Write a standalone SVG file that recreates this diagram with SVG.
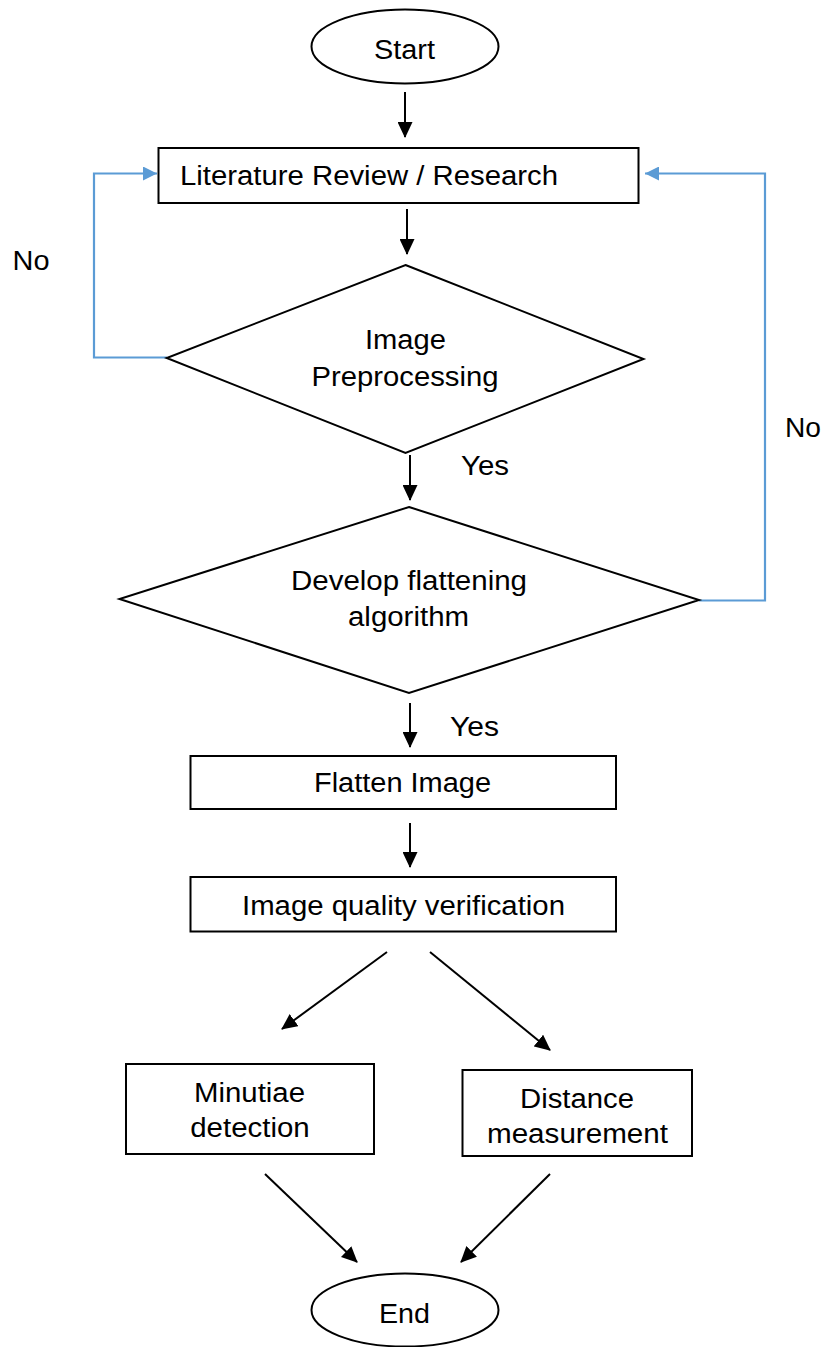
<svg xmlns="http://www.w3.org/2000/svg" width="827" height="1347" viewBox="0 0 827 1347">
<defs>
<style>
.shape{fill:#fff;stroke:#000;stroke-width:2}
.t{font-family:"Liberation Sans",Arial,sans-serif;font-size:27px;fill:#000;text-anchor:middle}
.ts{text-anchor:start}
.a{fill:none;stroke:#000;stroke-width:2;marker-end:url(#ah)}
.b{fill:none;stroke:#5B9BD5;stroke-width:2.2;marker-end:url(#bh)}
</style>
<marker id="ah" markerUnits="userSpaceOnUse" markerWidth="16" markerHeight="15" refX="15" refY="7.5" orient="auto">
<path d="M0,0 L16,7.5 L0,15 z" fill="#000"/>
</marker>
<marker id="bh" markerUnits="userSpaceOnUse" markerWidth="15" markerHeight="14" refX="14" refY="7" orient="auto">
<path d="M0,0 L14,7 L0,14 z" fill="#5B9BD5"/>
</marker>
</defs>
<rect width="827" height="1347" fill="#fff"/>
<g id="connectors">
<line class="a" x1="405" y1="92" x2="405" y2="137"/>
<line class="a" x1="407" y1="209" x2="407" y2="254"/>
<line class="a" x1="410" y1="455" x2="410" y2="500"/>
<line class="a" x1="410" y1="703" x2="410" y2="747"/>
<line class="a" x1="410" y1="823" x2="410" y2="867"/>
<line class="a" x1="387" y1="952" x2="282" y2="1029"/>
<line class="a" x1="430" y1="952" x2="550" y2="1050"/>
<line class="a" x1="265" y1="1174" x2="357" y2="1262"/>
<line class="a" x1="550" y1="1174" x2="461" y2="1262"/>
<polyline class="b" points="167,357.5 94,357.5 94,173.5 157,173.5"/>
<polyline class="b" points="699,600.5 765,600.5 765,173.5 645,173.5"/>
<text class="t" x="31" y="270" textLength="37" lengthAdjust="spacingAndGlyphs">No</text>
<text class="t" x="803" y="436.5" textLength="36" lengthAdjust="spacingAndGlyphs">No</text>
<text class="t ts" x="461" y="475" textLength="48" lengthAdjust="spacingAndGlyphs">Yes</text>
<text class="t ts" x="450" y="736" textLength="49" lengthAdjust="spacingAndGlyphs">Yes</text>
</g>
<g id="start">
<ellipse class="shape" cx="405" cy="46.5" rx="93.5" ry="37"/>
<text class="t" x="404.5" y="59" textLength="61" lengthAdjust="spacingAndGlyphs">Start</text>
</g>
<g id="literature">
<rect class="shape" x="158.5" y="148" width="480" height="55"/>
<text class="t ts" x="180" y="185" textLength="378" lengthAdjust="spacingAndGlyphs">Literature Review / Research</text>
</g>
<g id="preprocessing">
<polygon class="shape" points="405.5,265 643.5,359 405.5,453 166.7,358"/>
<text class="t" x="405.5" y="349" textLength="81" lengthAdjust="spacingAndGlyphs">Image</text>
<text class="t" x="405" y="386" textLength="187" lengthAdjust="spacingAndGlyphs">Preprocessing</text>
</g>
<g id="develop">
<polygon class="shape" points="409,507 699,600 409,693 119.5,599"/>
<text class="t" x="409" y="590" textLength="236" lengthAdjust="spacingAndGlyphs">Develop flattening</text>
<text class="t" x="408.5" y="626" textLength="121" lengthAdjust="spacingAndGlyphs">algorithm</text>
</g>
<g id="flatten">
<rect class="shape" x="190.5" y="756" width="425.5" height="53"/>
<text class="t" x="402.5" y="792" textLength="177" lengthAdjust="spacingAndGlyphs">Flatten Image</text>
</g>
<g id="quality">
<rect class="shape" x="190.5" y="877" width="425.5" height="54.5"/>
<text class="t" x="403.5" y="915" textLength="323" lengthAdjust="spacingAndGlyphs">Image quality verification</text>
</g>
<g id="minutiae">
<rect class="shape" x="126" y="1064" width="248" height="90"/>
<text class="t" x="249.5" y="1101.5" textLength="111" lengthAdjust="spacingAndGlyphs">Minutiae</text>
<text class="t" x="250" y="1137" textLength="119.5" lengthAdjust="spacingAndGlyphs">detection</text>
</g>
<g id="distance">
<rect class="shape" x="462.5" y="1070" width="229.5" height="86"/>
<text class="t" x="577" y="1108" textLength="114" lengthAdjust="spacingAndGlyphs">Distance</text>
<text class="t" x="577.5" y="1143" textLength="181" lengthAdjust="spacingAndGlyphs">measurement</text>
</g>
<g id="end">
<ellipse class="shape" cx="405" cy="1310" rx="93.5" ry="36.5"/>
<text class="t" x="404.5" y="1323" textLength="51" lengthAdjust="spacingAndGlyphs">End</text>
</g>
</svg>
